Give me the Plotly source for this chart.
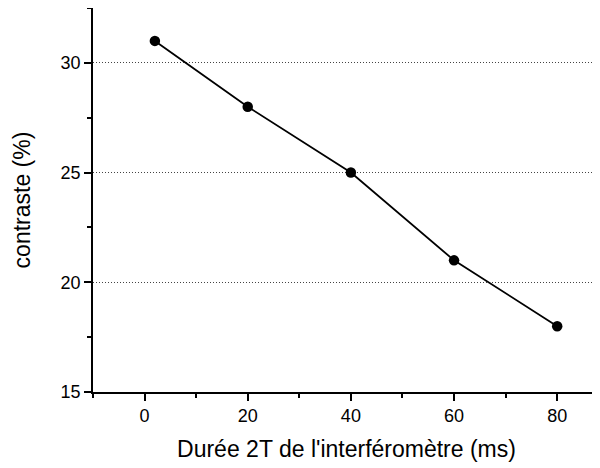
import plotly.graph_objects as go

# Data
duree_ms = [2, 20, 40, 60, 80]
contraste = [31, 28, 25, 21, 18]

x_ticks = [0, 20, 40, 60, 80]
y_ticks = [15, 20, 25, 30]

fig = go.Figure()

fig.add_trace(
    go.Scatter(
        x=duree_ms,
        y=contraste,
        mode='lines+markers',
        line=dict(color='black', width=1.8),
        marker=dict(color='black', size=10.5),
        showlegend=False
    )
)

axis_font = dict(family='Arial, Liberation Sans, sans-serif', size=18, color='black')

# page body has an 8px margin, so the figure is 8px smaller than the window
fig.update_layout(
    width=592,
    height=460,
    margin=dict(l=85, r=0, t=0, b=76),
    plot_bgcolor='white',
    paper_bgcolor='white',
    font=axis_font,
    xaxis=dict(
        range=[-10, 88.3],
        tickvals=x_ticks,
        ticks='outside',
        ticklen=7,
        tickwidth=1.5,
        tickcolor='black',
        showline=True,
        linecolor='black',
        linewidth=1.5,
        showgrid=False,
        zeroline=False,
        automargin=False,
        minor=dict(dtick=10, tick0=0, ticks='outside', ticklen=4, tickwidth=1.5, tickcolor='black', showgrid=False),
        title=dict(text="Durée 2T de l'interféromètre (ms)", font=dict(size=23), standoff=16),
    ),
    yaxis=dict(
        range=[15, 32.5],
        tickvals=y_ticks,
        ticks='outside',
        ticklen=7,
        tickwidth=1.5,
        tickcolor='black',
        showline=True,
        linecolor='black',
        linewidth=1.5,
        showgrid=True,
        gridcolor='#444444',
        gridwidth=1,
        griddash='1px,2px',
        zeroline=False,
        automargin=False,
        minor=dict(dtick=2.5, tick0=15, ticks='outside', ticklen=4, tickwidth=1.5, tickcolor='black', showgrid=False),
        title=dict(text='contraste (%)', font=dict(size=23), standoff=24),
    ),
)

fig.write_html("out.html")
